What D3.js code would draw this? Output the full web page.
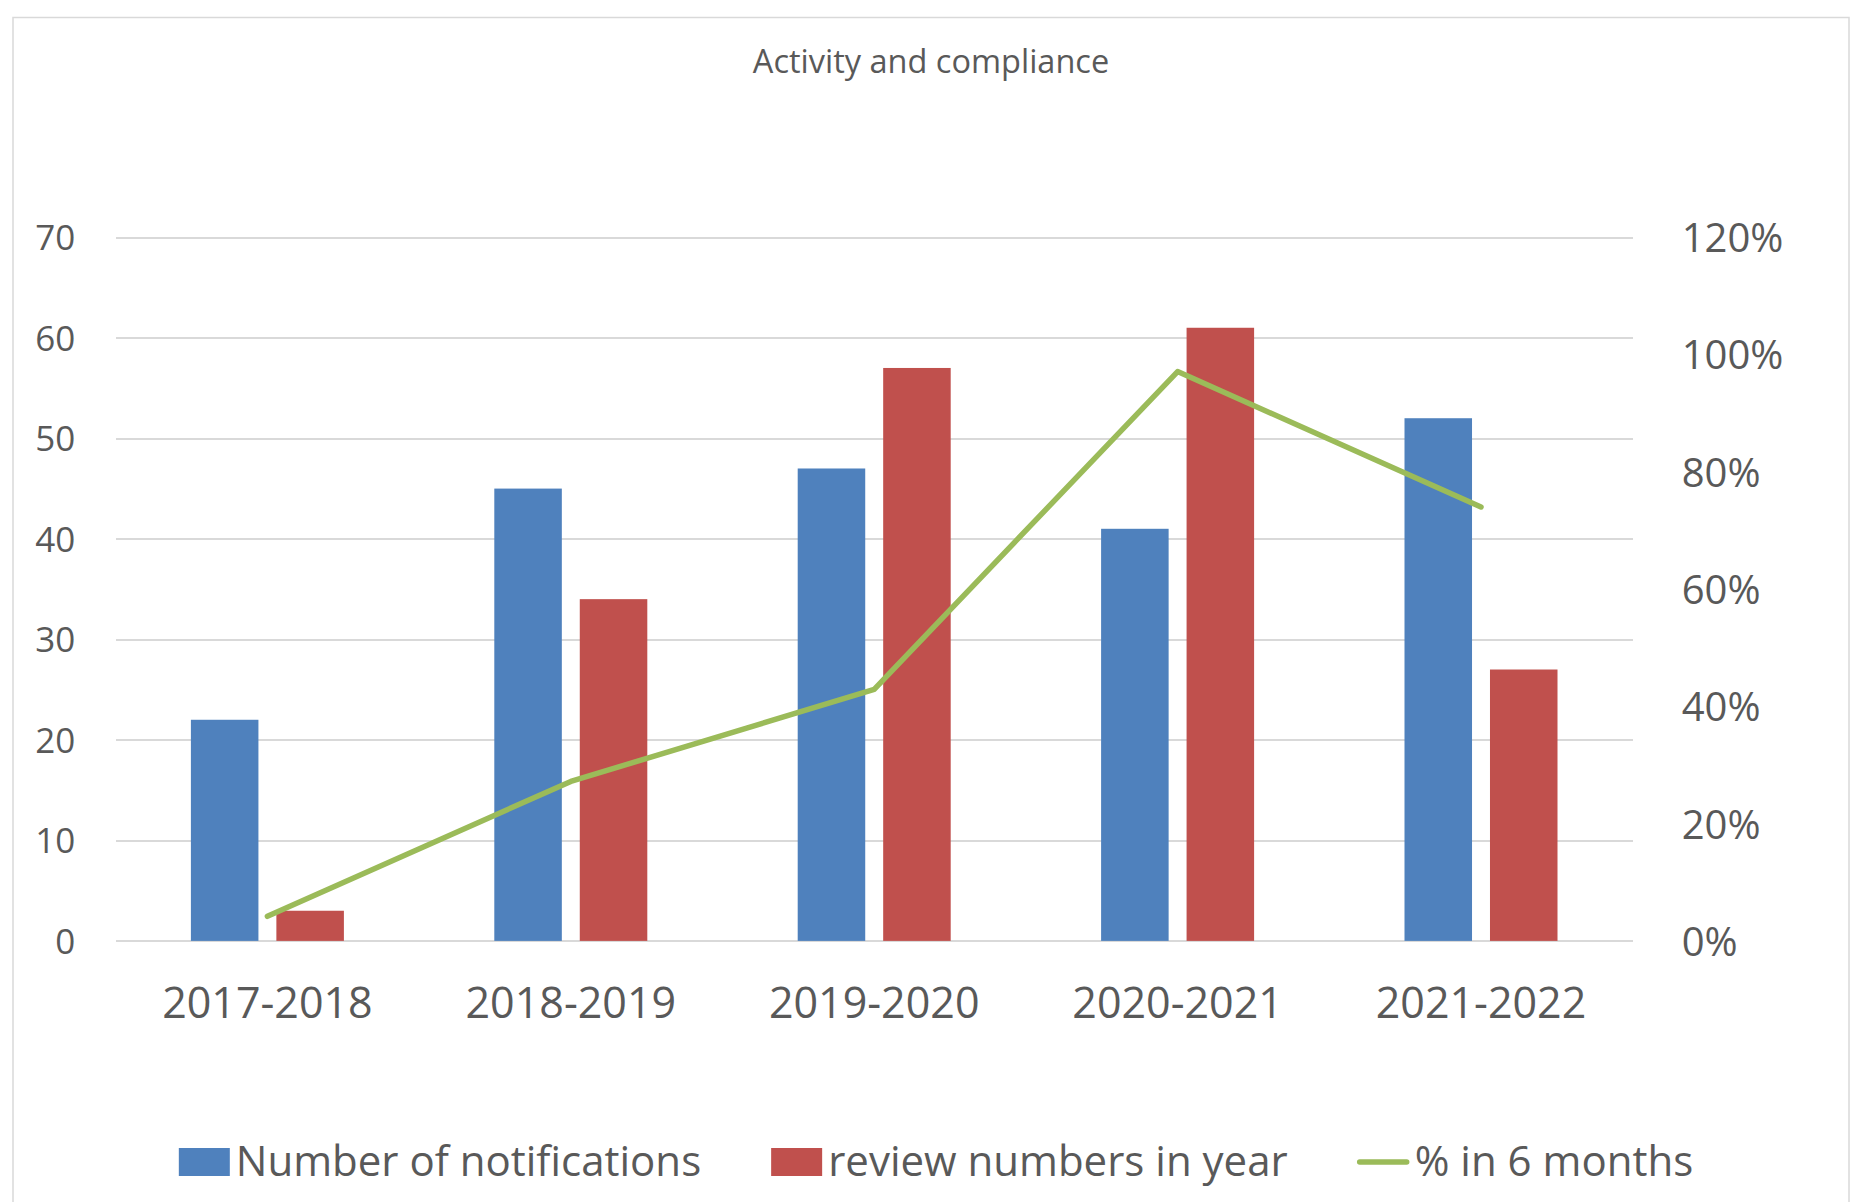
<!DOCTYPE html>
<html lang="en">
<head>
  <meta charset="UTF-8">
  <title>Activity and compliance</title>
  <style>
      body {
          margin: 0;
          background: #fff;
      }
      text {
          font-family: "Open Sans", sans-serif;
          fill: #595959;
      }
      .grid line {
          stroke: #d9d9d9;
          stroke-width: 2;
          shape-rendering: crispEdges;
      }
      .grid path {
          stroke-width: 0;
      }
  </style>
</head>
<body>
<div id="chart"></div>
<script src="https://d3js.org/d3.v7.min.js"></script>
<script>
  const categories = ['2017-2018', '2018-2019', '2019-2020', '2020-2021', '2021-2022'];
  const notifications = [22, 45, 47, 41, 52];
  const reviews = [3, 34, 57, 61, 27];
  const pctSixMonths = [0.042, 0.272, 0.429, 0.971, 0.740];
  const leftTicks = [0, 10, 20, 30, 40, 50, 60, 70];
  const rightTicks = [0, 0.2, 0.4, 0.6, 0.8, 1.0, 1.2];
  const seriesNames = ['Number of notifications', 'review numbers in year', '% in 6 months'];
  const colors = ['#4f81bd', '#c0504d', '#9bbb59'];

  const W = 1851, H = 1202;
  const margin = {top: 237.3, right: 218.3, bottom: 261.1, left: 115.7},
    width = W - margin.left - margin.right,
    height = H - margin.top - margin.bottom;

  const root = d3.select("#chart").append("svg")
    .attr("width", W)
    .attr("height", H);

  // chart frame
  root.append("rect")
    .attr("x", 13)
    .attr("y", 17.5)
    .attr("width", 1836)
    .attr("height", 1250)
    .attr("fill", "none")
    .attr("stroke", "#d9d9d9")
    .attr("stroke-width", 1.5);

  root.append("text")
    .attr("x", 931)
    .attr("y", 72.5)
    .attr("text-anchor", "middle")
    .style("font-size", "32.5px")
    .text("Activity and compliance");

  const svg = root.append("g")
    .attr("transform", `translate(${margin.left},${margin.top})`);

  const x = d3.scaleBand()
    .domain(categories)
    .range([0, width]);

  // two bars per category, centred on the band
  const inner = d3.scaleBand()
    .domain([0, 1])
    .range([-76.5, 76.5])
    .paddingInner(0.21)
    .paddingOuter(0);

  const y = d3.scaleLinear()
    .domain([0, 70])
    .range([height, 0]);

  const y2 = d3.scaleLinear()
    .domain([0, 1.2])
    .range([height, 0]);

  // gridlines
  svg.append("g")
    .attr("class", "grid")
    .call(d3.axisLeft(y)
      .tickValues(leftTicks)
      .tickSize(-width)
      .tickFormat(""));

  // left axis
  const leftAxis = svg.append("g")
    .call(d3.axisLeft(y)
      .tickValues(leftTicks)
      .tickSize(0)
      .tickPadding(40.5));
  leftAxis.select(".domain").remove();
  leftAxis.selectAll("text")
    .attr("dy", "0.36em")
    .style("font-size", "35px")
    .style("font-family", "'Open Sans', sans-serif")
    .attr("fill", "#595959");

  // right axis
  const rightAxis = svg.append("g")
    .attr("transform", `translate(${width},0)`)
    .call(d3.axisRight(y2)
      .tickValues(rightTicks)
      .tickSize(0)
      .tickPadding(49)
      .tickFormat(d3.format(".0%")));
  rightAxis.select(".domain").remove();
  rightAxis.selectAll("text")
    .attr("dy", "0.36em")
    .style("font-size", "40px")
    .style("font-family", "'Open Sans', sans-serif")
    .attr("fill", "#595959");

  // bottom axis
  const bottomAxis = svg.append("g")
    .attr("transform", `translate(0,${height})`)
    .call(d3.axisBottom(x)
      .tickSize(0));
  bottomAxis.select(".domain").remove();
  bottomAxis.selectAll("text")
    .attr("y", 77)
    .attr("dy", 0)
    .style("font-size", "43px")
    .style("font-family", "'Open Sans', sans-serif")
    .attr("fill", "#595959");

  // bars
  [notifications, reviews].forEach((values, s) => {
    svg.selectAll(".bar-" + s)
      .data(values)
      .enter().append("rect")
      .attr("class", "bar-" + s)
      .attr("x", (d, i) => x(categories[i]) + x.bandwidth() / 2 + inner(s))
      .attr("y", d => y(d))
      .attr("width", inner.bandwidth())
      .attr("height", d => height - y(d))
      .attr("fill", colors[s]);
  });

  // line
  const line = d3.line()
    .x((d, i) => x(categories[i]) + x.bandwidth() / 2)
    .y(d => y2(d));

  svg.append("path")
    .datum(pctSixMonths)
    .attr("fill", "none")
    .attr("stroke", colors[2])
    .attr("stroke-width", 5.5)
    .attr("stroke-linecap", "round")
    .attr("stroke-linejoin", "round")
    .attr("d", line);

  // legend
  const legend = root.append("g");
  const symW = 51, symGap = 6, itemGap = 70, legendY = 1176;
  let cursor = 0;
  seriesNames.forEach((name, i) => {
    const item = legend.append("g").attr("transform", `translate(${cursor},0)`);
    if (i < 2) {
      item.append("rect")
        .attr("x", 0)
        .attr("y", legendY - 28)
        .attr("width", symW)
        .attr("height", 28)
        .attr("fill", colors[i]);
    } else {
      item.append("line")
        .attr("x1", 2)
        .attr("x2", symW - 2)
        .attr("y1", legendY - 14)
        .attr("y2", legendY - 14)
        .attr("stroke", colors[i])
        .attr("stroke-width", 5.5)
        .attr("stroke-linecap", "round");
    }
    const t = item.append("text")
      .attr("x", symW + symGap)
      .attr("y", legendY)
      .style("font-size", "42px")
      .text(name);
    cursor += symW + symGap + t.node().getComputedTextLength() + itemGap;
  });
  const legendWidth = cursor - itemGap;
  legend.attr("transform", `translate(${936 - legendWidth / 2},0)`);
</script>
</body>
</html>
